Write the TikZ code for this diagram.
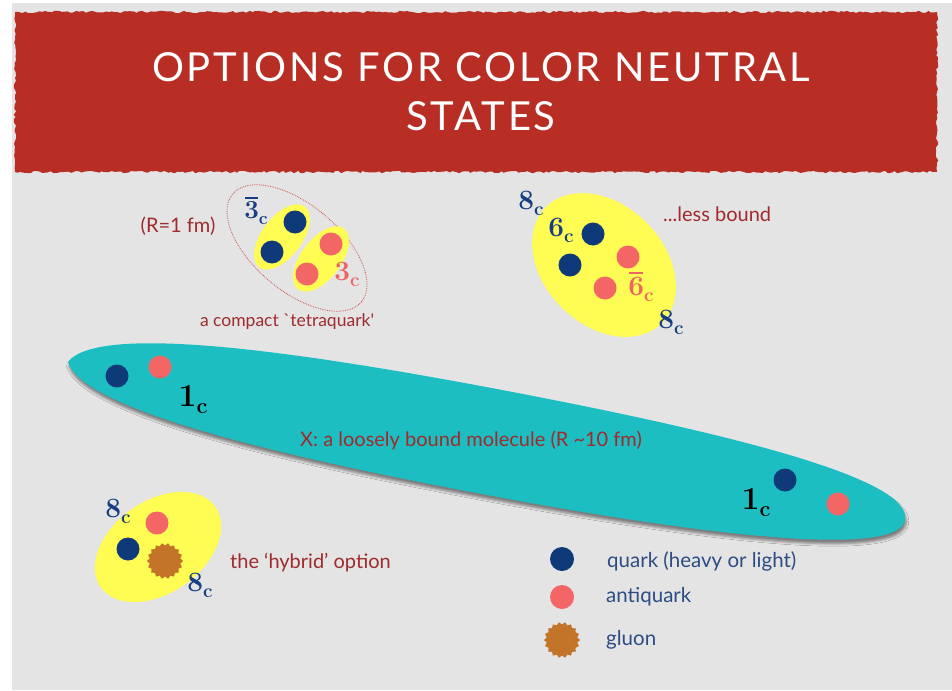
\documentclass[tikz,border=0pt]{standalone}
\usepackage{graphicx}
\usepackage{fontspec}
\setmainfont{Lato}
\newfontfamily\titlefont{Lato}[LetterSpace=7]
\newfontfamily\repfont{Latin Modern Roman}
\usetikzlibrary{shapes.geometric,shadows.blur,decorations.pathmorphing}

% colour representation label: bold digit with a lowered small bold c
\newcommand\replabel[1]{{\repfont\bfseries #1\raisebox{-0.22em}{\scalebox{0.68}{c}}}}
\newcommand\barred[1]{\leavevmode\rlap{\hspace{0.04em}\raisebox{0.76em}{\rule{0.5em}{0.055em}}}#1}

\definecolor{paper}{RGB}{228,228,228}
\definecolor{banner}{RGB}{185,46,36}
\definecolor{molteal}{RGB}{28,190,194}
\definecolor{blobyellow}{RGB}{255,252,84}
\definecolor{quarkblue}{RGB}{14,58,122}
\definecolor{antipink}{RGB}{244,102,102}
\definecolor{gluonbrown}{RGB}{196,116,40}
\definecolor{notered}{RGB}{160,42,44}
\definecolor{repblue}{RGB}{22,62,128}
\definecolor{reppink}{RGB}{238,100,100}
\definecolor{legendblue}{RGB}{44,76,130}
\definecolor{ringred}{RGB}{205,80,80}

\tikzset{
  quark/.style={circle, fill=quarkblue, minimum size=23pt, inner sep=0pt},
  antiquark/.style={circle, fill=antipink, minimum size=23pt, inner sep=0pt},
  gluon/.style={star, star points=18, star point ratio=0.86, fill=gluonbrown,
                minimum size=31pt, inner sep=0pt},
  note/.style={font=\fontsize{20}{24}\selectfont, text=notered, inner sep=0pt},
  legend/.style={font=\fontsize{20.5}{24}\selectfont, text=legendblue, anchor=west, inner sep=0pt},
  rep/.style={font=\fontsize{28}{28}\selectfont, text=repblue, inner sep=0pt},
  bigrep/.style={font=\fontsize{32}{32}\selectfont, text=black, inner sep=0pt},
  blob/.style={fill=blobyellow},
  titletext/.style={font=\titlefont\fontsize{40}{48}\selectfont, text=white, anchor=base, inner sep=0pt},
}

\begin{document}
\begin{tikzpicture}[x=1pt,y=-1pt]
\useasboundingbox (0,0) rectangle (952,690);
\fill[white] (0,0) rectangle (952,690);
\fill[paper] (12,3) rectangle (952,690);

% title banner with a ragged brush edge
\pgfmathsetseed{7}
\fill[banner, decorate, decoration={random steps, segment length=3pt, amplitude=1.2pt}]
  (15,12) rectangle (937,172);
\node[titletext] (title1) at (481,82) {OPTIONS FOR COLOR NEUTRAL};
\node[titletext] (title2) at (481,130) {STATES};

% loosely bound molecule
\begin{scope}[shift={(486.5,441)}, rotate=-10.7]
  \fill[molteal, blur shadow={shadow xshift=1pt, shadow yshift=-4pt, shadow opacity=45, shadow blur radius=2.5pt}]
    (-426,0) .. controls (-404,-42) and (-220,-53) .. (0,-53)
    .. controls (240,-53) and (426,-42) .. (426,0)
    .. controls (426,38) and (240,53) .. (0,53)
    .. controls (-220,53) and (-404,42) .. (-426,0) -- cycle;
\end{scope}
\node[note, anchor=west] (molnote) at (300,440) {X: a loosely bound molecule (R \textasciitilde 10 fm)};
\node[quark] (mq1) at (117,376) {};
\node[antiquark] (ma1) at (160,367) {};
\node[bigrep] (one1) at (193,400) {\replabel{1}};
\node[quark] (mq2) at (785,480) {};
\node[antiquark] (ma2) at (838,504) {};
\node[bigrep] (one2) at (756,503) {\replabel{1}};

% compact tetraquark
\draw[ringred, densely dotted, line width=0.8pt, rotate around={-40:(297,248)}]
  (297,248) ellipse [x radius=84, y radius=43];
\fill[blob, rotate around={53:(282,237)}] (282,237) ellipse [x radius=38, y radius=20];
\fill[blob, rotate around={53:(321,259)}] (321,259) ellipse [x radius=38, y radius=20];
\node[quark] (tq1) at (295,222) {};
\node[quark] (tq2) at (272,252) {};
\node[antiquark] (ta1) at (331,244) {};
\node[antiquark] (ta2) at (307,274) {};
\node[rep, font=\fontsize{26}{26}\selectfont] (tbar3) at (256,211) {\replabel{\barred{3}}};
\node[rep, text=reppink] (t3) at (347,274) {\replabel{3}};
\node[note] (tsize) at (178,226) {(R=1 fm)};
\node[note, font=\fontsize{17.5}{20}\selectfont] (tname) at (287,322) {a compact \textasciigrave tetraquark\textquotesingle};

% octet-octet state
\fill[blob, rotate around={-45:(604,265)}] (604,265) ellipse [x radius=82, y radius=60];
\node[quark] (oq1) at (593,234) {};
\node[quark] (oq2) at (570,265) {};
\node[antiquark] (oa1) at (628,257) {};
\node[antiquark] (oa2) at (605,288) {};
\node[rep] (o8a) at (531,203) {\replabel{8}};
\node[rep] (o6) at (561,230) {\replabel{6}};
\node[rep, text=reppink] (o6bar) at (641,287) {\replabel{\barred{6}}};
\node[rep] (o8b) at (671,322) {\replabel{8}};
\node[note, anchor=west] (onote) at (663,214) {...less bound};

% hybrid
\fill[blob, rotate around={35:(158,547)}] (158,547) ellipse [x radius=70, y radius=46];
\node[antiquark] (ha) at (157,523) {};
\node[quark] (hq) at (128,549) {};
\node[gluon] (hg) at (165,561) {};
\node[rep] (h8a) at (118,511) {\replabel{8}};
\node[rep] (h8b) at (200,585) {\replabel{8}};
\node[note, anchor=west] (hnote) at (230,563) {the ‘hybrid’ option};

% legend
\node[quark, minimum size=24pt] (lq) at (562,559) {};
\node[antiquark, minimum size=24pt] (la) at (562,597) {};
\node[gluon] (lg) at (562,640) {};
\node[legend] (lqt) at (607,561) {quark (heavy or light)};
\node[legend] (lat) at (606,597) {antiquark};
\node[legend] (lgt) at (606,640) {gluon};
\end{tikzpicture}
\end{document}
